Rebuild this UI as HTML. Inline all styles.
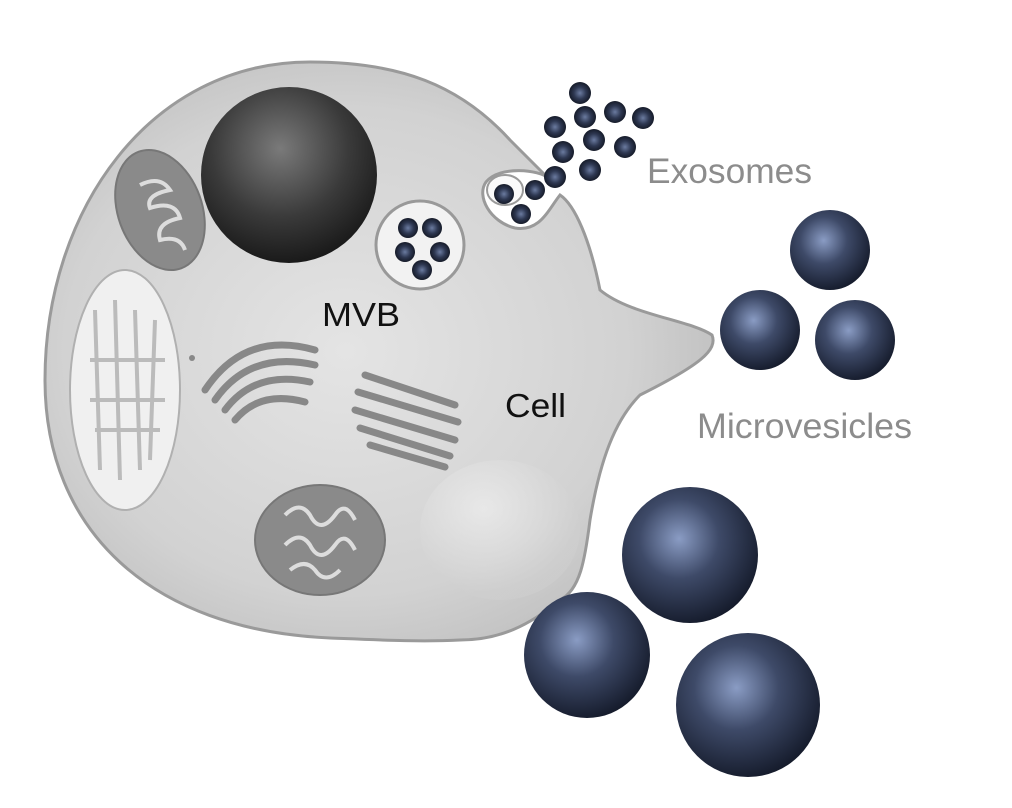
<!DOCTYPE html>
<html><head><meta charset="utf-8"><style>
html,body{margin:0;padding:0;background:#fff;}
svg{display:block;}
text{font-family:"Liberation Sans",sans-serif;}
</style></head><body>
<svg width="1012" height="808" viewBox="0 0 1012 808" xmlns="http://www.w3.org/2000/svg">
<defs>
<radialGradient id="cellg" cx="0.45" cy="0.5" r="0.6">
<stop offset="0" stop-color="#e4e4e4"/><stop offset="0.7" stop-color="#d2d2d2"/><stop offset="1" stop-color="#bdbdbd"/>
</radialGradient>
<radialGradient id="nuc" cx="0.45" cy="0.35" r="0.65">
<stop offset="0" stop-color="#7a7a7a"/><stop offset="0.6" stop-color="#3a3a3a"/><stop offset="1" stop-color="#1a1a1a"/>
</radialGradient>
<radialGradient id="ves" cx="0.42" cy="0.38" r="0.65">
<stop offset="0" stop-color="#8a9cc4"/><stop offset="0.45" stop-color="#3e4a68"/><stop offset="1" stop-color="#141a2a"/>
</radialGradient>
<radialGradient id="dot" cx="0.5" cy="0.5" r="0.55">
<stop offset="0" stop-color="#6b7ba0"/><stop offset="0.5" stop-color="#2e3852"/><stop offset="1" stop-color="#10141f"/>
</radialGradient>
<radialGradient id="bulge" cx="0.4" cy="0.35" r="0.6">
<stop offset="0" stop-color="#f4f4f4"/><stop offset="1" stop-color="#cfcfcf"/>
</radialGradient>
</defs>

<path d="M310,62 C400,62 460,85 510,140 C530,160 540,170 548,178
 C540,170 500,165 486,182 C476,196 490,222 515,228 C540,232 548,210 560,195
 C575,205 590,240 600,290 C630,315 690,320 712,335 C718,350 700,365 640,395
 C615,420 600,460 590,520 C585,560 580,590 560,600 C530,625 500,640 460,640
 C420,642 380,640 330,638 C150,630 45,530 45,380 C45,210 150,62 310,62 Z"
 fill="url(#cellg)" stroke="#9a9a9a" stroke-width="3"/>
<ellipse cx="500" cy="530" rx="80" ry="70" fill="url(#bulge)" opacity="0.6"/>
<ellipse cx="505" cy="190" rx="18" ry="15" fill="#fafafa" stroke="#9a9a9a" stroke-width="2"/>

<ellipse cx="125" cy="390" rx="55" ry="120" fill="#f0f0f0" stroke="#b0b0b0" stroke-width="2"/>
<g stroke="#bbb" stroke-width="4" fill="none">
<path d="M95,310 L100,470 M115,300 L120,480 M135,310 L140,470 M155,320 L150,460"/>
<path d="M90,360 L165,360 M90,400 L165,400 M95,430 L160,430"/>
</g>

<ellipse cx="160" cy="210" rx="42" ry="62" transform="rotate(-20 160 210)" fill="#8a8a8a" stroke="#777" stroke-width="2"/>
<path d="M140,185 q20,-10 30,5 q-25,5 -20,18 q25,-8 30,10 q-25,5 -20,22 q20,-5 25,10" fill="none" stroke="#ddd" stroke-width="4"/>
<ellipse cx="320" cy="540" rx="65" ry="55" fill="#8a8a8a" stroke="#777" stroke-width="2"/>
<path d="M285,515 q15,-15 25,0 q10,20 25,0 q10,-15 20,5 M285,545 q15,-15 25,0 q10,20 25,0 q10,-15 20,5 M290,570 q15,-12 25,0 q10,15 25,0" fill="none" stroke="#ddd" stroke-width="4"/>

<g stroke="#888" stroke-width="7" fill="none" stroke-linecap="round">
<path d="M205,390 q40,-60 110,-40"/><path d="M215,400 q35,-50 100,-35"/><path d="M225,410 q30,-40 85,-28"/><path d="M235,420 q25,-30 70,-18"/>
<path d="M365,375 l90,30"/><path d="M358,392 l100,30"/><path d="M355,410 l100,30"/><path d="M360,428 l90,28"/><path d="M370,445 l75,22"/>
</g>
<circle cx="192" cy="358" r="3" fill="#888"/>

<circle cx="289" cy="175" r="88" fill="url(#nuc)"/>

<circle cx="420" cy="245" r="44" fill="#f2f2f2" stroke="#999" stroke-width="3"/>
<g fill="url(#dot)">
<circle cx="408" cy="228" r="10"/><circle cx="432" cy="228" r="10"/><circle cx="405" cy="252" r="10"/><circle cx="440" cy="252" r="10"/><circle cx="422" cy="270" r="10"/>
</g>

<g fill="url(#dot)">
<circle cx="504" cy="194" r="10"/><circle cx="521" cy="214" r="10"/><circle cx="535" cy="190" r="10"/>
<circle cx="580" cy="93" r="11"/><circle cx="555" cy="127" r="11"/><circle cx="585" cy="117" r="11"/><circle cx="615" cy="112" r="11"/><circle cx="643" cy="118" r="11"/>
<circle cx="563" cy="152" r="11"/><circle cx="594" cy="140" r="11"/><circle cx="625" cy="147" r="11"/><circle cx="590" cy="170" r="11"/><circle cx="555" cy="177" r="11"/>
</g>

<g fill="url(#ves)">
<circle cx="830" cy="250" r="40"/><circle cx="760" cy="330" r="40"/><circle cx="855" cy="340" r="40"/>
<circle cx="690" cy="555" r="68"/><circle cx="587" cy="655" r="63"/><circle cx="748" cy="705" r="72"/>
</g>

<text x="647" y="183" font-size="35" fill="#8c8c8c" textLength="165" lengthAdjust="spacingAndGlyphs">Exosomes</text>
<text x="697" y="438" font-size="35" fill="#8c8c8c" textLength="215" lengthAdjust="spacingAndGlyphs">Microvesicles</text>
<text x="322" y="326" font-size="33" fill="#111" textLength="78" lengthAdjust="spacingAndGlyphs">MVB</text>
<text x="505" y="417" font-size="33" fill="#111" textLength="61" lengthAdjust="spacingAndGlyphs">Cell</text>
</svg>
</body></html>
